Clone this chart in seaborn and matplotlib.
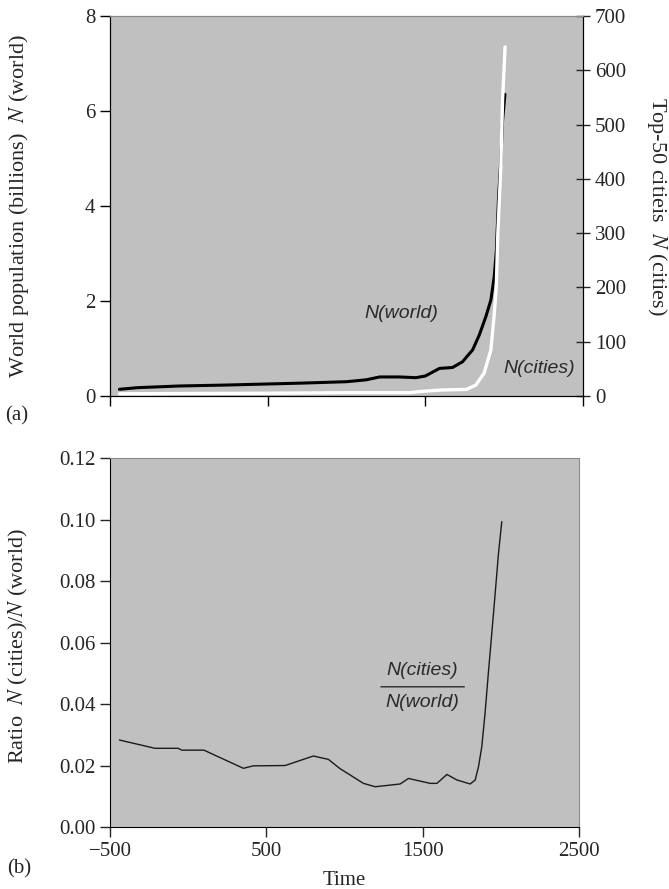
import numpy as np
import pandas as pd
import matplotlib
matplotlib.use("Agg")
import matplotlib.pyplot as plt
import seaborn as sns

# world population, billions (left axis, top panel)
world_year = [-440, -325, -60, 240, 710, 1000, 1125, 1210, 1335, 1440, 1500, 1590, 1673,
              1736, 1800, 1842, 1884, 1916, 1937, 1951, 1955, 1965, 1978, 1990, 2005]
world_pop = [0.14, 0.175, 0.21, 0.23, 0.27, 0.30, 0.34, 0.40, 0.40, 0.385, 0.42, 0.58, 0.60,
             0.72, 0.97, 1.28, 1.67, 2.02, 2.51, 3.07, 3.42, 4.2, 4.9, 5.8, 6.35]

# top-50 cities population, millions (right axis, top panel)
city_year = [-440, 0, 500, 1000, 1400, 1460, 1600, 1760, 1820, 1873, 1916, 1937, 1950,
             1960, 1979, 1990, 2006]
city_pop = [4, 4.5, 5, 6, 6, 8, 11, 12, 20, 42, 85, 150, 200, 300, 422, 545, 643]

# ratio N(cities)/N(world) (bottom panel)
ratio_year = [-440, -212, -63, -41, 101, 353, 417, 620, 801, 897, 971, 1121, 1196, 1356,
              1409, 1548, 1591, 1655, 1719, 1804, 1836, 1857, 1878, 1899, 1920, 1953, 1985, 2006]
ratio_val = [0.0283, 0.0256, 0.0256, 0.025, 0.025, 0.0191, 0.0199, 0.020, 0.0231, 0.022, 0.019,
             0.0142, 0.0131, 0.014, 0.0158, 0.0142, 0.0142, 0.0171, 0.0153, 0.014, 0.0153,
             0.0196, 0.0261, 0.037, 0.05, 0.0695, 0.089, 0.0993]

x_ticks = [-500, 500, 1500, 2500]

sns.set_style("ticks", {"axes.facecolor": "#c0c0c0"})
plt.rcParams["font.family"] = ["Liberation Serif", "DejaVu Serif"]
plt.rcParams["mathtext.fontset"] = "stix"

fig = plt.figure(figsize=(6.69, 8.89), dpi=100)
ax1 = fig.add_axes([0.1644, 0.5546, 0.7070, 0.4274])
ax3 = fig.add_axes([0.1644, 0.0697, 0.7011, 0.4151])

df_w = pd.DataFrame({"year": world_year, "pop": world_pop})
df_c = pd.DataFrame({"year": city_year, "pop": city_pop})
df_r = pd.DataFrame({"year": ratio_year, "ratio": ratio_val})

ann = dict(fontsize=14, family="Liberation Sans", style="italic", color="#2a2a2a",
           ha="center", va="center")

# ---- (a) ----
sns.lineplot(data=df_w, x="year", y="pop", ax=ax1, color="black", lw=2.2, estimator=None)
ax1.set_xlim(-500, 2500)
ax1.set_ylim(0, 8)
ax1.set_xticks(x_ticks)
ax1.set_xticklabels([])
ax1.set_yticks([0, 2, 4, 6, 8])
ax1.set_xlabel("")
ax1.set_ylabel("World population (billions)  $N$ (world)", fontsize=16)
ax1.yaxis.set_label_coords(-0.168, 0.5)
ax1.tick_params(axis="both", direction="out", length=7, width=1, labelsize=15, color="black")

ax2 = ax1.twinx()
sns.lineplot(data=df_c, x="year", y="pop", ax=ax2, color="white", lw=2.4, estimator=None)
ax2.set_ylim(0, 700)
ax2.set_xlim(-500, 2500)
ax2.set_yticks(range(0, 701, 100))
ax2.set_ylabel("Top-50 citieis  $N$ (cities)", fontsize=16, rotation=-90, va="center")
ax2.yaxis.set_label_coords(1.156, 0.5)
ax2.tick_params(axis="y", direction="inout", length=10, width=1, labelsize=15)

for a in (ax1, ax2):
    a.spines["top"].set_visible(True)
    a.spines["top"].set_color("#8a8a8a")
    a.spines["right"].set_visible(True)
    a.spines["right"].set_color("black")
    a.spines["left"].set_color("black")
    a.spines["bottom"].set_color("black")

ax1.text(1347, 1.74, "N(world)", **ann)
ax1.text(2220, 0.58, "N(cities)", **ann)

# ---- (b) ----
sns.lineplot(data=df_r, x="year", y="ratio", ax=ax3, color="#1a1a1a", lw=1.0, estimator=None)
ax3.set_xlim(-500, 2500)
ax3.set_ylim(0, 0.12)
ax3.set_xticks(x_ticks)
ax3.set_xticklabels(["\u2212500", "500", "1500", "2500"])
ax3.set_yticks(np.arange(0, 0.121, 0.02))
ax3.yaxis.set_major_formatter(matplotlib.ticker.FormatStrFormatter("%.2f"))
ax3.set_xlabel("Time", fontsize=15)
ax3.xaxis.set_label_coords(0.5, -0.119)
ax3.set_ylabel("Ratio  $N$ (cities)/$N$ (world)", fontsize=16)
ax3.yaxis.set_label_coords(-0.170, 0.49)
ax3.tick_params(axis="both", direction="out", length=7, width=1, labelsize=15)
ax3.spines["top"].set_visible(True)
ax3.spines["right"].set_visible(True)
ax3.spines["top"].set_color("#8a8a8a")
ax3.spines["right"].set_color("#8a8a8a")
ax3.spines["left"].set_color("black")
ax3.spines["bottom"].set_color("black")

ax3.text(1495, 0.0508, "N(cities)", **ann)
ax3.text(1495, 0.0405, "N(world)", **ann)
ax3.annotate("", xy=(1784, 0.0456), xytext=(1215, 0.0456),
             arrowprops=dict(arrowstyle="-", color="#2a2a2a", lw=1))

fig.text(0.008, 1 - 416 / 889, "(a)", fontsize=15, va="center", ha="left")
fig.text(0.010, 1 - 869 / 889, "(b)", fontsize=15, va="center", ha="left")

fig.savefig("out.png", dpi=100)
